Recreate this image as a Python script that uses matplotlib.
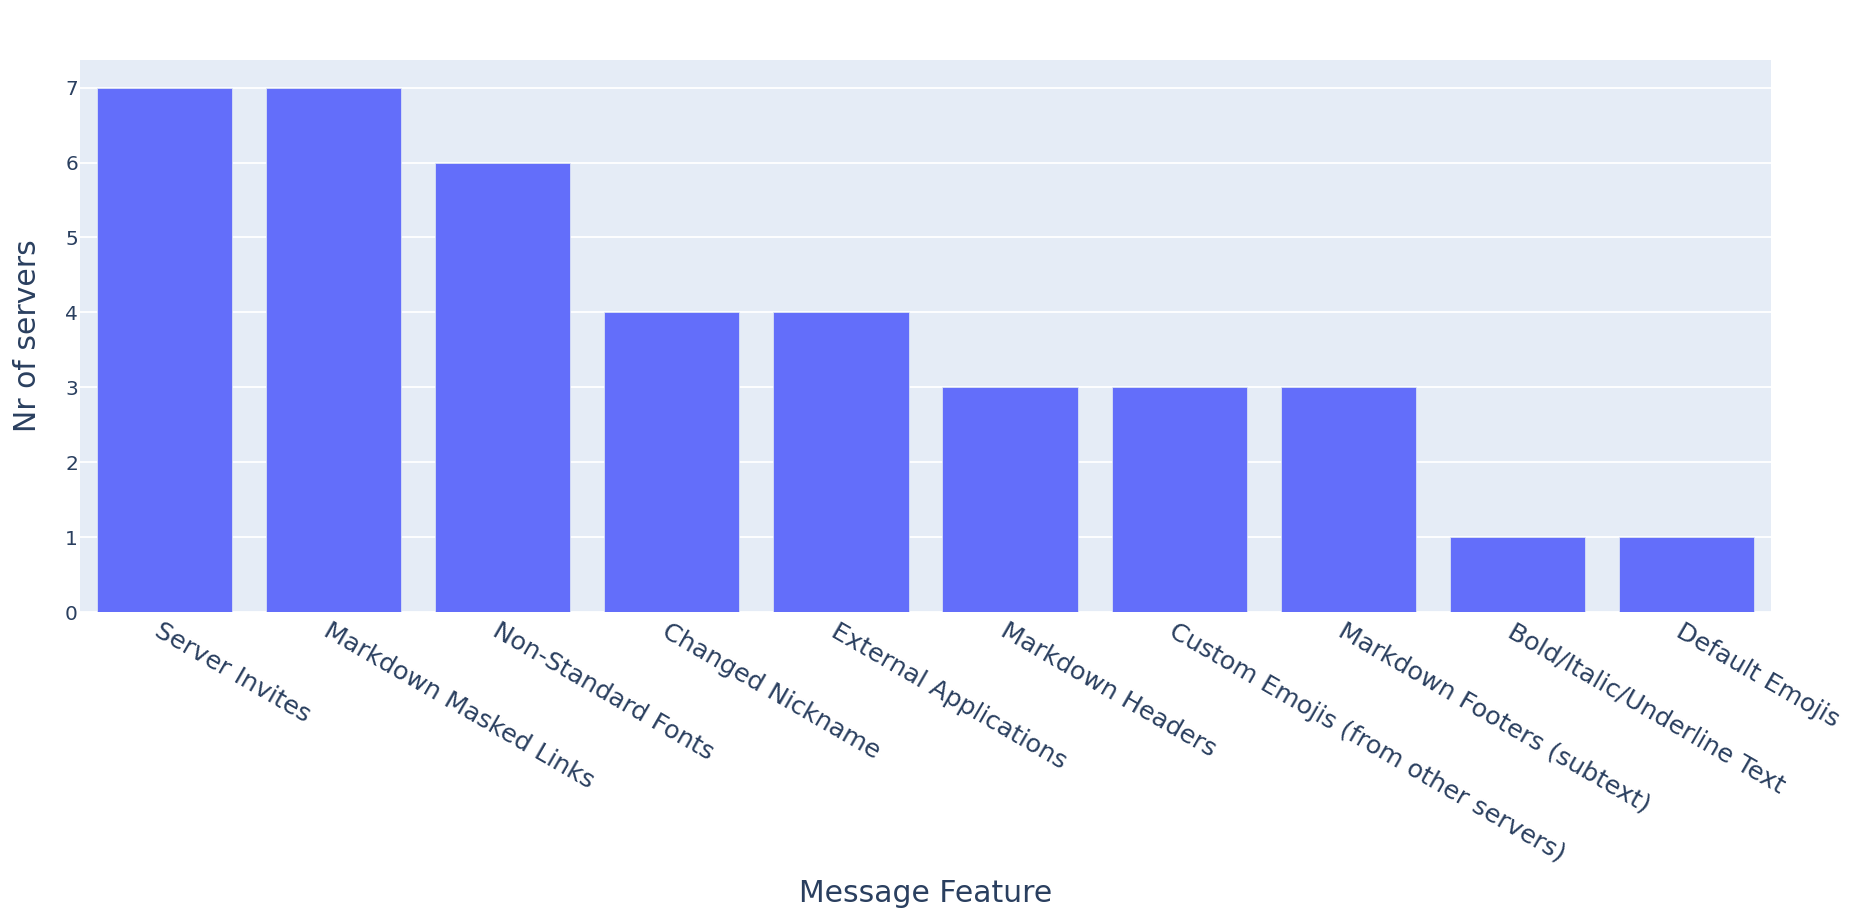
import matplotlib
matplotlib.use("Agg")
import matplotlib.pyplot as plt
from matplotlib import transforms

features = [
    "Server Invites",
    "Markdown Masked Links",
    "Non-Standard Fonts",
    "Changed Nickname",
    "External Applications",
    "Markdown Headers",
    "Custom Emojis (from other servers)",
    "Markdown Footers (subtext)",
    "Bold/Italic/Underline Text",
    "Default Emojis",
]
servers = [7, 7, 6, 4, 4, 3, 3, 3, 1, 1]

W, H = 1863, 916
text_color = "#2a3f5f"

fig = plt.figure(figsize=(W / 100, H / 100), dpi=100)
ax = fig.add_axes([80 / W, (H - 612) / H, (1771 - 80) / W, (612 - 60) / H])
ax.set_facecolor("#e5ecf6")

x = range(len(features))
ax.bar(x, servers, width=0.8, color="#636efa", edgecolor="#e5ecf6", linewidth=0.5, zorder=3)

ax.set_xlim(-0.5, len(features) - 0.5)
ax.set_ylim(0, 7 * 1.0526)
ax.set_yticks(range(0, 8))
ax.grid(axis="y", color="white", linewidth=1.3, zorder=0)
ax.set_axisbelow(True)
for s in ax.spines.values():
    s.set_visible(False)

ax.tick_params(axis="y", length=0, pad=1.5, labelsize=14.5, labelcolor=text_color)
ax.tick_params(axis="x", length=0, pad=5, labelsize=18.3, labelcolor=text_color)
ax.set_xticks(list(x))
ax.set_xticklabels(features, rotation=-30, ha="left", va="top", rotation_mode="anchor")
offset = transforms.ScaledTranslation(-2 / 100, 0, fig.dpi_scale_trans)
for lbl in ax.get_xticklabels():
    lbl.set_transform(lbl.get_transform() + offset)

fig.text(925.5 / W, 1 - 902 / H, "Message Feature", ha="center", va="baseline",
         fontsize=21.5, color=text_color)
fig.text(42 / W, 1 - 336 / H, "Nr of servers", ha="right", va="center",
         rotation=90, fontsize=21.5, color=text_color)

fig.savefig("out.png", dpi=100, facecolor="white")
